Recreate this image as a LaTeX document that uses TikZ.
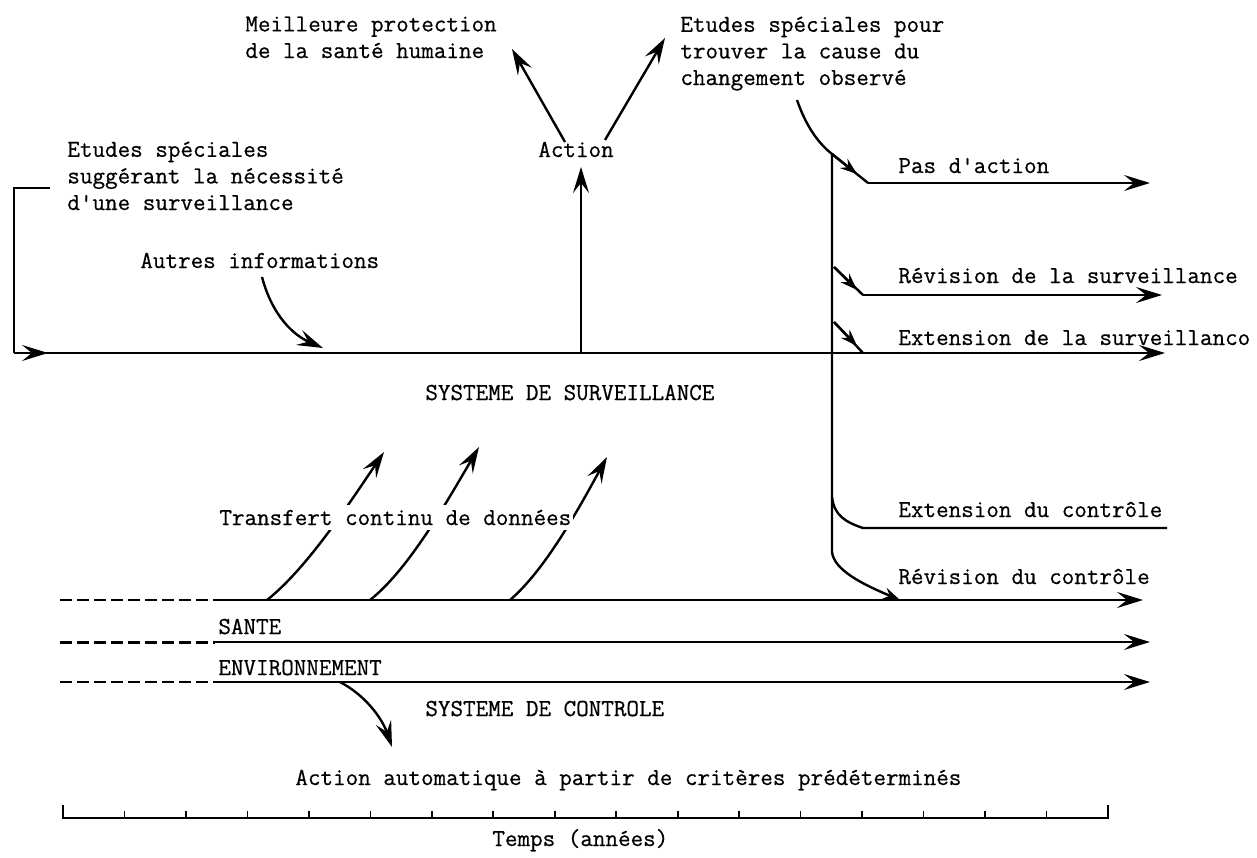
\documentclass[tikz,border=0pt]{standalone}
\usepackage{fontspec}
\newfontfamily\tw{Latin Modern Mono}[FakeBold=0.6]
\usetikzlibrary{arrows.meta}
\tikzset{
  lbl/.style={font=\tw\fontsize{12.2pt}{13.3pt}\selectfont, inner sep=0pt, anchor=base west, align=left},
  ln/.style={line width=1.2pt},
  arr/.style={ln, -{Stealth[length=13pt,width=8pt,inset=5pt]}},
  sarr/.style={ln, -{Stealth[length=8.5pt,width=6pt,inset=3pt]}},
  dashA/.style={line width=1pt, dash pattern=on 6pt off 2.5pt},
  dashB/.style={line width=1.5pt, dash pattern=on 6pt off 2.5pt},
  tickmark/.style={line width=0.8pt}
}
\begin{document}
\begin{tikzpicture}[x=0.5pt,y=-0.5pt]
\useasboundingbox (0,0) rectangle (1257,857);

% ---------- texts (base = last line) ----------
\node[lbl] (prot) at (245,58) {Meilleure protection\\de la santé humaine};
\node[lbl] (etud2) at (680,85) {Etudes spéciales pour\\trouver la cause du\\changement observé};
\node[lbl] (etud1) at (67,210) {Etudes spéciales\\suggérant la nécessité\\d'une surveillance};
\node[lbl] (autres) at (140,268) {Autres informations};
\node[lbl, anchor=base] (action) at (576,157) {Action};
\node[lbl] (sysurv) at (425,400) {SYSTEME DE SURVEILLANCE};
\node[lbl] (pas) at (898,173) {Pas d'action};
\node[lbl] (revs) at (898,283) {Révision de la surveillance};
\node[lbl] (exts) at (898,345) {Extension de la surveillanco};
\node[lbl] (extc) at (898,517) {Extension du contrôle};
\node[lbl] (revc) at (898,584) {Révision du contrôle};
\node[lbl] (sante) at (218,634) {SANTE};
\node[lbl] (env) at (218,675) {ENVIRONNEMENT};
\node[lbl] (syctl) at (425,716) {SYSTEME DE CONTROLE};
\node[lbl] (auto) at (295,785) {Action automatique à partir de critères prédéterminés};
\node[lbl] (temps) at (492,846) {Temps (années)};

% ---------- coordinates ----------
\coordinate (bT) at (50,188);
\coordinate (bC) at (14,188);
\coordinate (mL) at (14,353);
\coordinate (mA) at (48,353);
\coordinate (mR) at (1165,353);
\coordinate (aB) at (581,353);
\coordinate (aT) at (581,167);
\coordinate (vT) at (832,154);
\coordinate (vB) at (832,552);

% ---------- surveillance system ----------
\draw[ln] (bT) -- (bC) -- (mL);
\draw[arr] (mL) -- (mA);
\draw[arr] (mL) -- (mR);
\draw[arr] (262,277) .. controls (272,315) and (293,335) .. (323,348);
\draw[arr] (aB) -- (aT);
\draw[arr] (565,142) -- (512,49);
\draw[arr] (605,140) -- (665,38);

% ---------- decision branches ----------
\draw[ln] (797,100) .. controls (806,126) and (818,143) .. (vT) -- (868,183);
\draw[sarr] (vT) -- (857,174);
\draw[arr] (868,183) -- (1150,183);
\draw[ln] (834,267) -- (863,295);
\draw[sarr] (834,267) -- (857,290);
\draw[arr] (863,295) -- (1162,295);
\draw[ln] (834,322) -- (863,353);
\draw[sarr] (834,322) -- (857,346);
\draw[ln] (832,497) .. controls (834,515) and (845,522) .. (863,528) -- (1167,528);
\draw[sarr] (vT) -- (vB) .. controls (834,570) and (862,584) .. (900,600);

% ---------- control system ----------
\draw[dashA] (60,600) -- (215,600);
\draw[arr] (215,600) -- (1143,600);
\draw[dashB] (60,642) -- (215,642);
\draw[arr] (215,642) -- (1150,642);
\draw[dashA] (60,682) -- (215,682);
\draw[arr] (215,682) -- (1150,682);

\draw[arr] (267,600) .. controls (305,570) and (345,510) .. (384,452);
\draw[arr] (370,600) .. controls (408,570) and (445,505) .. (479,447);
\draw[arr] (510,600) .. controls (545,570) and (578,510) .. (607,457);
\node[lbl, fill=white, inner xsep=1pt, inner ysep=2.5pt] (transf) at (217,525) {Transfert continu de données};

\draw[arr] (340,682) .. controls (365,695) and (382,718) .. (392,747);

% ---------- time axis ----------
\draw[ln] (63,805) -- (63,818) -- (1108,818) -- (1108,805);
\foreach \i in {1,...,16} {
  \draw[tickmark] ({63+61.47*\i},818) -- ++(0,-7);
}
\end{tikzpicture}
\end{document}
